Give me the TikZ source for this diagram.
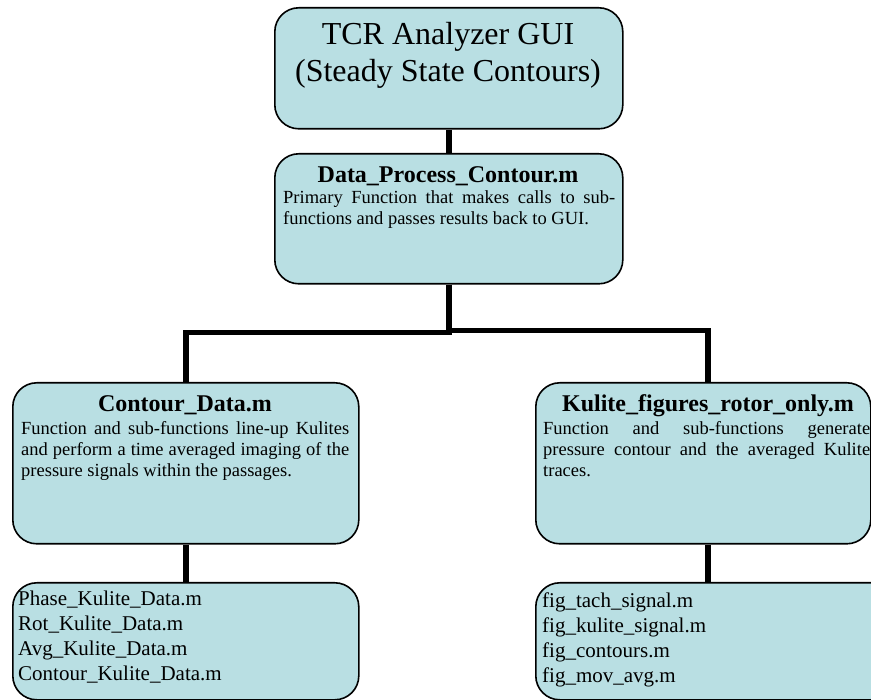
\documentclass[tikz,border=0pt]{standalone}
\usepackage{fontspec}
\setmainfont{Liberation Serif}
\usetikzlibrary{calc}
\definecolor{boxfill}{RGB}{185,223,227}
\begin{document}
\begin{tikzpicture}[x=1pt,y=-1pt,
  box/.style={draw=black, line width=1.6pt, fill=boxfill, rounded corners=24pt, inner sep=0pt, anchor=north west},
  link/.style={draw=black, line width=5.5pt},
  titletext/.style={font=\fontsize{32}{37}\selectfont, align=center, inner sep=0pt, anchor=base},
  headtext/.style={font=\bfseries\fontsize{24}{28}\selectfont, inner sep=0pt, anchor=base},
  bodytext/.style={font=\fontsize{18.5}{21.2}\selectfont, align=left, inner sep=0pt, anchor=base west},
  listtext/.style={font=\fontsize{21}{24.7}\selectfont, align=left, inner sep=0pt, anchor=base west}]
\useasboundingbox (0,0) rectangle (871,700);
\clip (0,0) rectangle (871,700);
% boxes
\node[box, minimum width=348pt, minimum height=121pt] (gui) at (274,7) {};
\node[box, minimum width=348pt, minimum height=130pt] (dpc) at (274,153) {};
\node[box, minimum width=346pt, minimum height=161pt] (cd) at (12,382) {};
\node[box, minimum width=335pt, minimum height=161pt] (kf) at (535,382) {};
\node[box, minimum width=346pt, minimum height=117pt] (cdl) at (12,582) {};
\node[box, minimum width=360pt, minimum height=117pt] (kfl) at (535,582) {};
\coordinate (kfin) at ($(kf.north west)+(173,0)$);
\coordinate (kfout) at ($(kf.south west)+(173,0)$);
\coordinate (kflin) at ($(kfl.north west)+(173,0)$);
% connectors
\draw[link] (gui.south) -- (dpc.north);
\draw[link] (dpc.south) -- ++(0,48) -| (cd.north);
\draw[link] (dpc.south) -- ++(0,46) -| (kfin);
\draw[link] (cd.south) -- (cdl.north);
\draw[link] (kfout) -- (kflin);
% texts (base anchor = baseline of the last line)
\node[titletext] (t1) at (448,82) {TCR Analyzer GUI\\(Steady State Contours)};
\node[headtext] (h1) at (448,183) {Data\_Process\_Contour.m};
\node[bodytext] (b1) at (283,225) {\makebox[332pt][s]{Primary Function that makes calls to sub-}\\functions and passes results back to GUI.};
\node[headtext] (h2) at (185,412) {Contour\_Data.m};
\node[bodytext] (b2) at (21,477) {\makebox[328pt][s]{Function and sub-functions line-up Kulites}\\\makebox[328pt][s]{and perform a time averaged imaging of the}\\pressure signals within the passages.};
\node[headtext] (h3) at (708,412) {Kulite\_figures\_rotor\_only.m};
\node[bodytext] (b3) at (543,477) {\makebox[327pt][s]{Function and sub-functions generate}\\\makebox[327pt][s]{pressure contour and the averaged Kulite}\\traces.};
\node[listtext] (l1) at (18,680) {Phase\_Kulite\_Data.m\\Rot\_Kulite\_Data.m\\Avg\_Kulite\_Data.m\\Contour\_Kulite\_Data.m};
\node[listtext] (l2) at (542,682) {fig\_tach\_signal.m\\fig\_kulite\_signal.m\\fig\_contours.m\\fig\_mov\_avg.m};
\end{tikzpicture}
\end{document}
